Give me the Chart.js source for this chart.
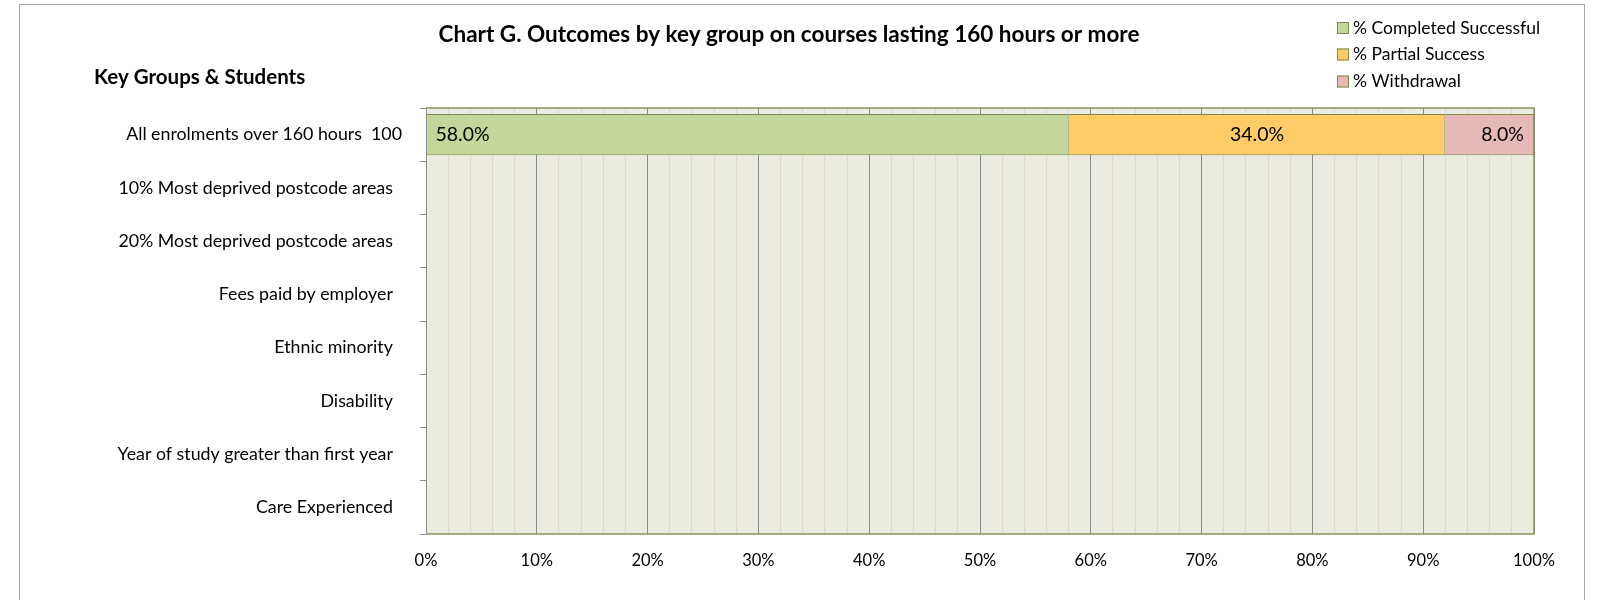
<!DOCTYPE html>
<html>
<head>
<meta charset="utf-8">
<script src="https://cdn.jsdelivr.net/npm/chart.js@4"></script>
<style>
  body { margin: 0; background: #fff; }
  #wrap { position: relative; width: 1599px; height: 600px; overflow: hidden; }
  #frame { position: absolute; left: 19px; top: 4px; width: 1564px; height: 620px; border: 1px solid #a6a6a6; pointer-events: none; }
</style>
</head>
<body>
<div id="wrap">
  <canvas id="chart" width="1599" height="600"></canvas>
  <div id="frame"></div>
</div>
<script>
const groups = [
  'All enrolments over 160 hours  100',
  '10% Most deprived postcode areas',
  '20% Most deprived postcode areas',
  'Fees paid by employer',
  'Ethnic minority',
  'Disability',
  'Year of study greater than first year',
  'Care Experienced'
];
const completed = [58, null, null, null, null, null, null, null];
const partial   = [34, null, null, null, null, null, null, null];
const withdrawn = [8, null, null, null, null, null, null, null];
const seriesNames = ['% Completed Successful', '% Partial Success', '% Withdrawal'];
const seriesColors = ['#c4d79b', '#fecb66', '#e6b8b7'];

const FONT = 'Lato, "Open Sans", sans-serif';

// plot background + frame
const plotBg = {
  id: 'plotBg',
  beforeDraw(chart) {
    const a = chart.chartArea, c = chart.ctx;
    c.save();
    c.fillStyle = '#ecebe0';
    c.fillRect(a.left, a.top, a.right - a.left, a.bottom - a.top);
    c.restore();
  },
  afterDatasetsDraw(chart) {
    const a = chart.chartArea, c = chart.ctx;
    c.save();
    c.strokeStyle = '#8a9461';
    c.lineWidth = 1.5;
    c.beginPath();
    c.moveTo(a.left, a.top); c.lineTo(a.right, a.top); c.lineTo(a.right, a.bottom); c.lineTo(a.left, a.bottom);
    c.stroke();
    c.strokeStyle = '#8c8c8c';
    c.lineWidth = 1;
    c.beginPath();
    c.moveTo(a.left + 0.5, a.top); c.lineTo(a.left + 0.5, a.bottom);
    c.stroke();
    c.restore();
  }
};

// value labels
const valueLabels = {
  id: 'valueLabels',
  afterDatasetsDraw(chart) {
    const c = chart.ctx;
    const modes = ['start', 'center', 'end'];
    c.save();
    c.font = '19.5px ' + FONT;
    c.fillStyle = '#000';
    c.textBaseline = 'middle';
    chart.data.datasets.forEach((ds, i) => {
      chart.getDatasetMeta(i).data.forEach((bar, j) => {
        const v = ds.data[j];
        if (v == null) return;
        const left = Math.min(bar.x, bar.base), right = Math.max(bar.x, bar.base);
        const txt = v.toFixed(1) + '%';
        if (modes[i] === 'start') { c.textAlign = 'left'; c.fillText(txt, left + 9, bar.y); }
        else if (modes[i] === 'center') { c.textAlign = 'center'; c.fillText(txt, (left + right) / 2, bar.y); }
        else { c.textAlign = 'right'; c.fillText(txt, right - 10, bar.y); }
      });
    });
    c.restore();
  }
};

// title, axis heading, legend
const extras = {
  id: 'extras',
  afterDraw(chart) {
    const c = chart.ctx;
    c.save();
    c.fillStyle = '#000';
    c.textBaseline = 'middle';
    c.font = 'bold 22.5px ' + FONT;
    c.textAlign = 'center';
    c.fillText('Chart G. Outcomes by key group on courses lasting 160 hours or more', 789, 35);
    c.font = 'bold 20.5px ' + FONT;
    c.textAlign = 'left';
    c.fillText('Key Groups & Students', 94, 77);
    c.font = '17.5px ' + FONT;
    const rows = [28, 54.5, 81.5];
    seriesNames.forEach((name, i) => {
      c.fillStyle = seriesColors[i];
      c.fillRect(1337, rows[i] - 6, 12, 12);
      c.strokeStyle = '#7a8a4a';
      c.lineWidth = 1;
      c.strokeRect(1337.5, rows[i] - 5.5, 11, 11);
      c.fillStyle = '#000';
      c.fillText(name, 1353, rows[i]);
    });
    c.restore();
  }
};

new Chart(document.getElementById('chart'), {
  type: 'bar',
  data: {
    labels: groups,
    datasets: [completed, partial, withdrawn].map((d, i) => ({
      label: seriesNames[i],
      data: d,
      backgroundColor: seriesColors[i],
      borderColor: '#7a8a4a',
      borderWidth: 1,
      barPercentage: 0.77,
      categoryPercentage: 1
    }))
  },
  options: {
    indexAxis: 'y',
    responsive: false,
    animation: false,
    layout: { padding: { top: 108, right: 65, left: 0, bottom: 0 } },
    plugins: { legend: { display: false }, tooltip: { enabled: false }, title: { display: false } },
    scales: {
      x: {
        stacked: true,
        min: 0, max: 100,
        border: { display: false },
        afterFit(s) { s.height = 66; },
        grid: {
          drawTicks: false,
          color: ctx => (ctx.tick && ctx.tick.value % 10 === 0) ? '#8c8c8c' : '#dcdac4',
          lineWidth: 1
        },
        ticks: {
          stepSize: 2,
          autoSkip: false,
          maxRotation: 0,
          padding: 17,
          color: '#000',
          font: { family: FONT, size: 16.5 },
          callback: v => v % 10 === 0 ? v + '%' : ''
        }
      },
      y: {
        stacked: true,
        border: { display: false },
        afterFit(s) { s.width = 426; },
        grid: { drawOnChartArea: false, drawTicks: true, tickLength: 6, color: '#8c8c8c', offset: true },
        ticks: {
          padding: 18,
          color: '#000',
          font: { family: FONT, size: 17.8 },
          callback: (v, i) => i === 0 ? groups[i] : groups[i] + '  '
        }
      }
    }
  },
  plugins: [plotBg, valueLabels, extras]
});
</script>
</body>
</html>
